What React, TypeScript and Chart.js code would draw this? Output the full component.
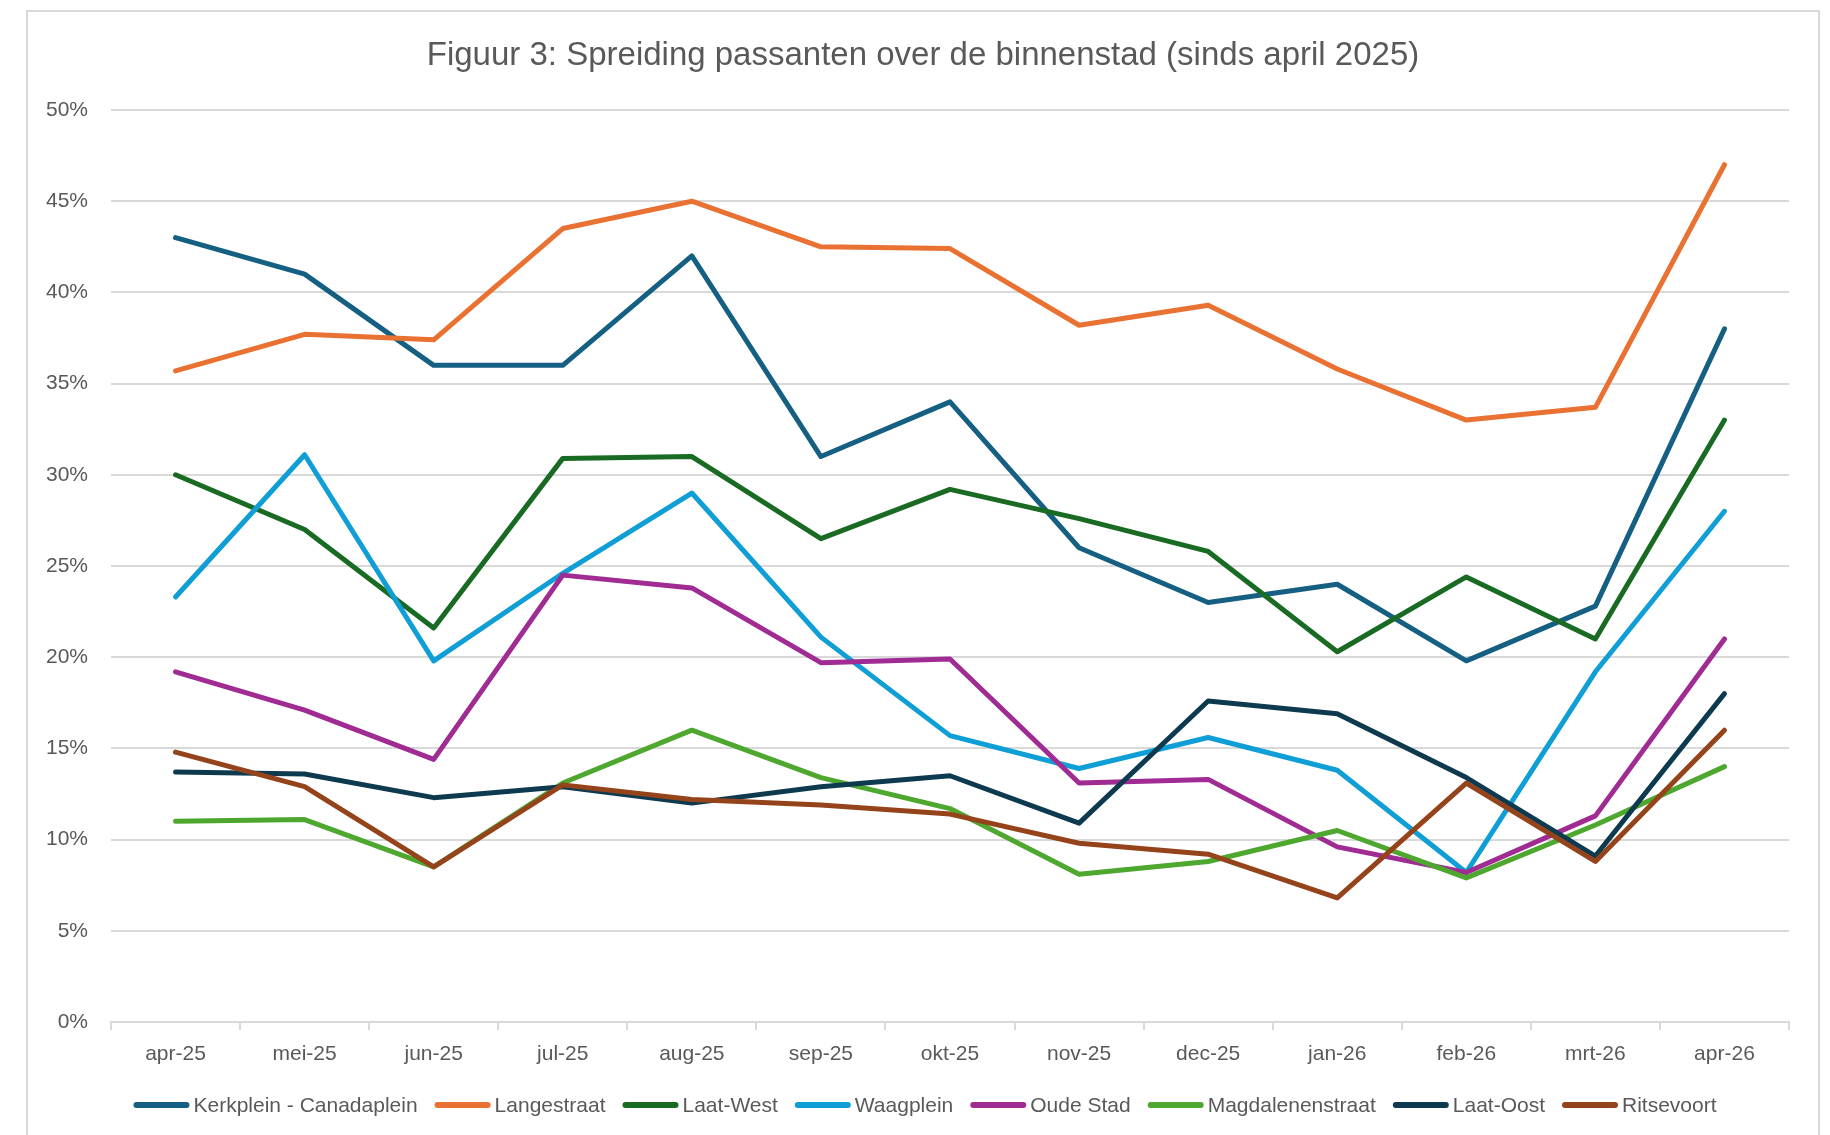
import React, { useEffect, useRef } from "react";
import { Chart, registerables } from "chart.js";

Chart.register(...registerables);

const TITLE = "Figuur 3: Spreiding passanten over de binnenstad (sinds april 2025)";

const MONTHS = ["apr-25", "mei-25", "jun-25", "jul-25", "aug-25", "sep-25", "okt-25", "nov-25", "dec-25", "jan-26", "feb-26", "mrt-26", "apr-26"];

const SERIES_NAMES = ["Kerkplein - Canadaplein", "Langestraat", "Laat-West", "Waagplein", "Oude Stad", "Magdalenenstraat", "Laat-Oost", "Ritsevoort"];
const SERIES_COLORS = ["#156082", "#E97132", "#196B24", "#0F9ED5", "#A02B93", "#4EA72E", "#0E3A4F", "#94431A"];

const kerkplein = [43.0, 41.0, 36.0, 36.0, 42.0, 31.0, 34.0, 26.0, 23.0, 24.0, 19.8, 22.8, 38.0];
const langestraat = [35.7, 37.7, 37.4, 43.5, 45.0, 42.5, 42.4, 38.2, 39.3, 35.8, 33.0, 33.7, 47.0];
const laatWest = [30.0, 27.0, 21.6, 30.9, 31.0, 26.5, 29.2, 27.6, 25.8, 20.3, 24.4, 21.0, 33.0];
const waagplein = [23.3, 31.1, 19.8, 24.6, 29.0, 21.1, 15.7, 13.9, 15.6, 13.8, 8.2, 19.2, 28.0];
const oudeStad = [19.2, 17.1, 14.4, 24.5, 23.8, 19.7, 19.9, 13.1, 13.3, 9.6, 8.2, 11.3, 21.0];
const magdalenenstraat = [11.0, 11.1, 8.5, 13.1, 16.0, 13.4, 11.7, 8.1, 8.8, 10.5, 7.9, 10.8, 14.0];
const laatOost = [13.7, 13.6, 12.3, 12.9, 12.0, 12.9, 13.5, 10.9, 17.6, 16.9, 13.4, 9.1, 18.0];
const ritsevoort = [14.8, 12.9, 8.5, 13.0, 12.2, 11.9, 11.4, 9.8, 9.2, 6.8, 13.1, 8.8, 16.0];

const SERIES_VALUES = [kerkplein, langestraat, laatWest, waagplein, oudeStad, magdalenenstraat, laatOost, ritsevoort];

const Y_MIN = 0;
const Y_MAX = 50;
const Y_STEP = 5;

const FONT = "'Liberation Sans', Arial, sans-serif";
const TEXT_COLOR = "#595959";
const GRID_COLOR = "#D9D9D9";

const CANVAS_W = 1790;
const CANVAS_H = 1123;

const decorPlugin = {
  id: "excelDecor",
  afterDraw(chart: any) {
    const ctx = chart.ctx as CanvasRenderingContext2D;
    ctx.save();
    // title, centred on the whole chart frame
    ctx.font = `33px ${FONT}`;
    ctx.fillStyle = TEXT_COLOR;
    ctx.textAlign = "center";
    ctx.textBaseline = "middle";
    ctx.fillText(TITLE, chart.width / 2, 44);

    // legend
    ctx.font = `21px ${FONT}`;
    const box = 56;
    const gap = 4;
    const pad = 17;
    const items = chart.data.datasets.map((ds: any) => ({
      text: ds.label as string,
      color: ds.borderColor as string,
      w: ctx.measureText(ds.label).width,
    }));
    const total = items.reduce((s: number, it: any) => s + box + gap + it.w, 0) + pad * (items.length - 1);
    let x = (chart.width - total) / 2 + 2;
    const y = 1093;
    ctx.textBaseline = "middle";
    ctx.textAlign = "left";
    for (const it of items) {
      ctx.strokeStyle = it.color;
      ctx.lineWidth = 6;
      ctx.lineCap = "round";
      ctx.beginPath();
      ctx.moveTo(x + 3, y);
      ctx.lineTo(x + box - 3, y);
      ctx.stroke();
      ctx.fillStyle = TEXT_COLOR;
      ctx.fillText(it.text, x + box + gap, y + 1);
      x += box + gap + it.w + pad;
    }
    ctx.restore();
  },
};

export default function App() {
  const ref = useRef<HTMLCanvasElement | null>(null);

  useEffect(() => {
    document.documentElement.style.overflow = "hidden";
    if (!ref.current) return;
    const n = SERIES_NAMES.length;
    const chart = new Chart(ref.current, {
      type: "line",
      data: {
        labels: MONTHS,
        datasets: SERIES_NAMES.map((name, i) => ({
          label: name,
          data: SERIES_VALUES[i],
          borderColor: SERIES_COLORS[i],
          backgroundColor: SERIES_COLORS[i],
          borderWidth: 5,
          borderJoinStyle: "round" as const,
          borderCapStyle: "round" as const,
          pointRadius: 0,
          pointHoverRadius: 0,
          tension: 0,
          fill: false,
          order: n - i,
        })),
      },
      options: {
        responsive: false,
        animation: false,
        devicePixelRatio: 1,
        layout: { padding: { left: 0, right: 29, top: 98, bottom: 0 } },
        plugins: {
          legend: { display: false },
          tooltip: { enabled: false },
          title: { display: false },
        },
        scales: {
          x: {
            type: "category",
            offset: true,
            grid: {
              offset: true,
              drawOnChartArea: false,
              drawTicks: true,
              tickLength: 8,
              color: GRID_COLOR,
              lineWidth: 2,
            },
            border: { display: true, color: GRID_COLOR, width: 2 },
            ticks: {
              color: TEXT_COLOR,
              font: { family: FONT, size: 21 },
              padding: 12,
              maxRotation: 0,
              autoSkip: false,
            },
            afterFit(scale: any) {
              scale.height = CANVAS_H - 1010;
            },
          },
          y: {
            min: Y_MIN,
            max: Y_MAX,
            grid: { color: GRID_COLOR, lineWidth: 2, drawTicks: false },
            border: { display: false },
            ticks: {
              stepSize: Y_STEP,
              color: TEXT_COLOR,
              font: { family: FONT, size: 21 },
              padding: 23,
              callback: (v: any) => `${v}%`,
            },
            afterFit(scale: any) {
              scale.width = 83;
            },
          },
        },
      },
      plugins: [decorPlugin],
    });
    return () => chart.destroy();
  }, []);

  return (
    <div
      style={{
        position: "absolute",
        left: 26,
        top: 10,
        width: CANVAS_W,
        height: CANVAS_H,
        borderTop: `2px solid ${GRID_COLOR}`,
        borderLeft: `2px solid ${GRID_COLOR}`,
        borderRight: `2px solid ${GRID_COLOR}`,
        background: "#ffffff",
      }}
    >
      <canvas ref={ref} width={CANVAS_W} height={CANVAS_H} style={{ display: "block" }} />
    </div>
  );
}
